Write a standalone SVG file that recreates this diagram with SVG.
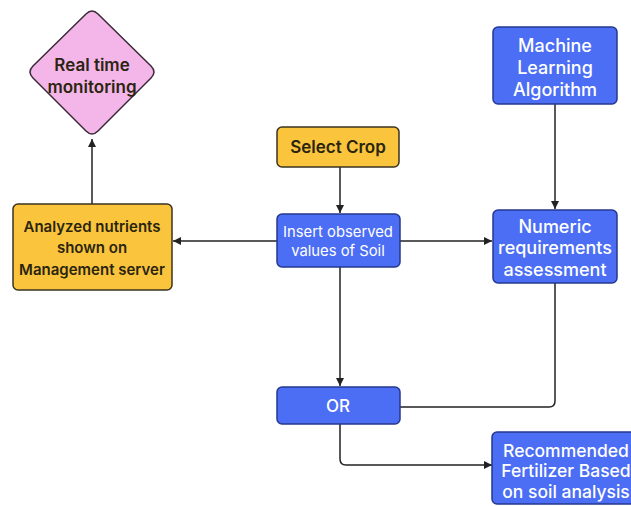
<svg xmlns="http://www.w3.org/2000/svg" width="631" height="506" viewBox="0 0 631 506">
<defs>
<marker id="ah" markerWidth="10" markerHeight="10" refX="9" refY="5" orient="auto" markerUnits="userSpaceOnUse">
<path d="M1,1 L9,5 L1,9 Z" fill="#222"/>
</marker>
<style>
.blue{fill:#4B6EF5;stroke:#26388f;stroke-width:1.5}
.yel{fill:#FAC53C;stroke:#3a3320;stroke-width:1.5}
.pink{fill:#F4B6E8;stroke:#3a2a38;stroke-width:1.5}
.tw{fill:#fff;font-family:Inter,"Liberation Sans",sans-serif;font-size:17.5px;font-weight:500;text-anchor:middle}
.td{fill:#2a2410;font-family:Inter,"Liberation Sans",sans-serif;font-size:15px;font-weight:600;text-anchor:middle}
.conn{fill:none;stroke:#222;stroke-width:1.5}
</style>
</defs>
<rect width="631" height="506" fill="#fff"/>
<g id="connectors">
<path class="conn" d="M92,204 V139" marker-end="url(#ah)"/>
<path class="conn" d="M340,167 V213" marker-end="url(#ah)"/>
<path class="conn" d="M277,241 H173" marker-end="url(#ah)"/>
<path class="conn" d="M400,241 H492" marker-end="url(#ah)"/>
<path class="conn" d="M555,104 V209" marker-end="url(#ah)"/>
<path class="conn" d="M555,283 V401 Q555,407 549,407 H400"/>
<path class="conn" d="M340,267 V386" marker-end="url(#ah)"/>
<path class="conn" d="M340,424 V459 Q340,465 346,465 H492" marker-end="url(#ah)"/>
</g>
<g id="realtime">
<path class="pink" d="M86,14 Q92,8 98,14 L151,66 Q157,72 151,78 L98,131 Q92,137 86,131 L33,78 Q27,72 33,66 Z"/>
<text class="td" x="92" y="71" style="font-size:17px">Real time</text>
<text class="td" x="92" y="93" style="font-size:17px">monitoring</text>
</g>
<g id="ml">
<rect class="blue" x="493" y="27" width="124" height="77" rx="5"/>
<text class="tw" x="555" y="52" style="font-size:18px">Machine</text>
<text class="tw" x="555" y="74" style="font-size:18px">Learning</text>
<text class="tw" x="555" y="96" style="font-size:18px">Algorithm</text>
</g>
<g id="selectcrop">
<rect class="yel" x="277" y="127" width="122" height="40" rx="5"/>
<text class="td" x="338" y="153" style="font-size:17px">Select Crop</text>
</g>
<g id="analyzed">
<rect class="yel" x="13" y="204" width="159" height="86" rx="5"/>
<text class="td" x="92" y="232">Analyzed nutrients</text>
<text class="td" x="92" y="253">shown on</text>
<text class="td" x="92" y="275">Management server</text>
</g>
<g id="insert">
<rect class="blue" x="277" y="214" width="123" height="53" rx="5"/>
<text class="tw" x="338" y="237" style="font-size:14.8px;font-weight:400">Insert observed</text>
<text class="tw" x="338" y="256" style="font-size:14.8px;font-weight:400">values of Soil</text>
</g>
<g id="numeric">
<rect class="blue" x="493" y="210" width="124" height="73" rx="5"/>
<text class="tw" x="555" y="233" style="font-size:18px">Numeric</text>
<text class="tw" x="555" y="254" style="font-size:18px">requirements</text>
<text class="tw" x="555" y="276" style="font-size:18px">assessment</text>
</g>
<g id="or">
<rect class="blue" x="277" y="387" width="123" height="37" rx="5"/>
<text class="tw" x="338" y="412" style="font-size:17px">OR</text>
</g>
<g id="recommended">
<rect class="blue" x="492" y="432" width="145" height="72" rx="5"/>
<text class="tw" x="566" y="457">Recommended</text>
<text class="tw" x="566" y="477">Fertilizer Based</text>
<text class="tw" x="566" y="498">on soil analysis</text>
</g>
</svg>
